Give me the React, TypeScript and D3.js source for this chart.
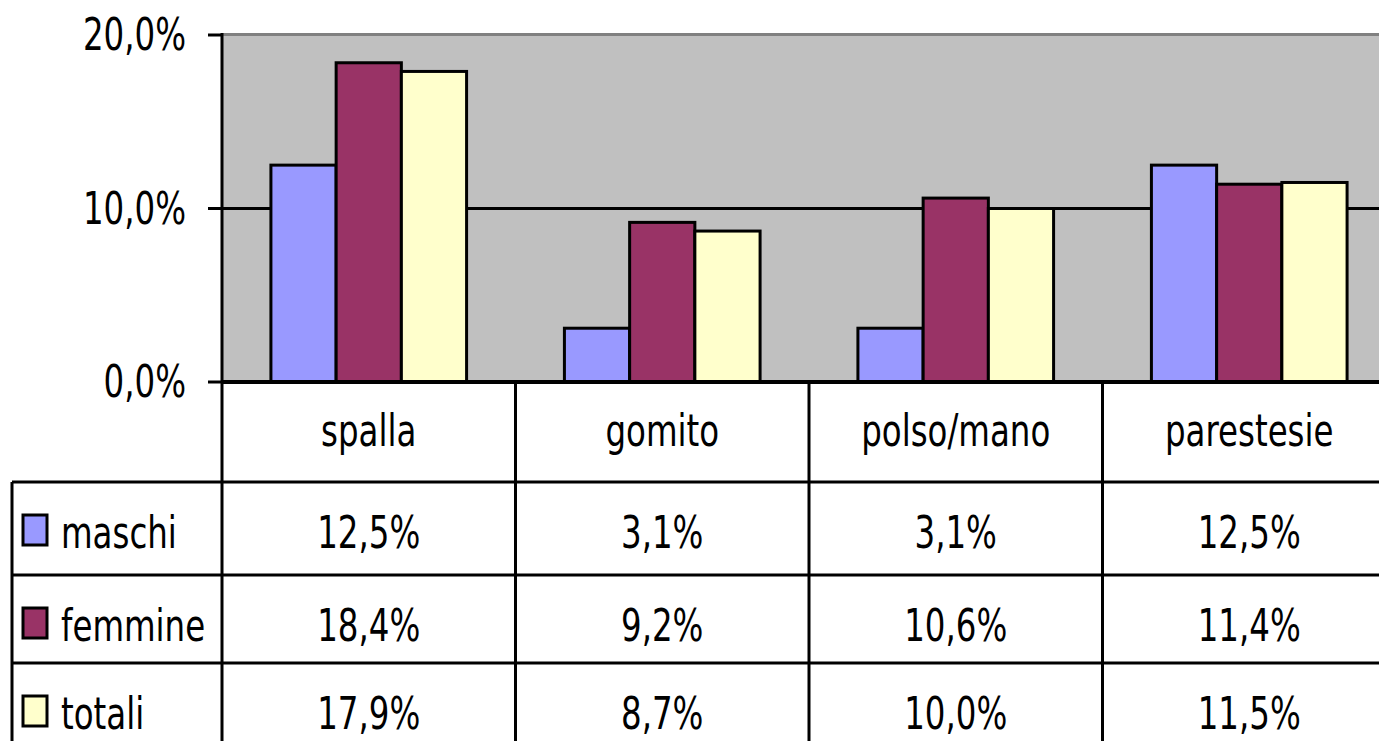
import React from "react";
import * as d3 from "d3";

const categories = ["spalla", "gomito", "polso/mano", "parestesie"];
const seriesNames = ["maschi", "femmine", "totali"];
const maschi = [12.5, 3.1, 3.1, 12.5];
const femmine = [18.4, 9.2, 10.6, 11.4];
const totali = [17.9, 8.7, 10.0, 11.5];
const seriesColors = ["#9999FF", "#993366", "#FFFFCC"];
const yTicks = [0, 10, 20];

const seriesValues = [maschi, femmine, totali];

const W = 1379;
const H = 741;
const plotLeft = 222;
const plotRight = 1396;
const plotTop = 35;
const plotBottom = 382;
const tableLeft = 12;
const rowEdges = [382, 482, 575, 663, 755];
const FONT = "'DejaVu Sans Condensed', 'DejaVu Sans', sans-serif";
const FS = 44;
const SX = 0.82;

const fmt = (v: number) => v.toFixed(1).replace(".", ",") + "%";

function T(props: { x: number; y: number; anchor?: "start" | "middle" | "end"; children: React.ReactNode }) {
  return (
    <text
      transform={`translate(${props.x},${props.y}) scale(${SX},1)`}
      textAnchor={props.anchor || "start"}
      fontSize={FS}
      fill="#000"
    >
      {props.children}
    </text>
  );
}

export default function App() {
  const x = d3.scaleBand<string>().domain(categories).range([plotLeft, plotRight]).paddingInner(0).paddingOuter(0);
  const xs = d3.scaleBand<string>().domain(seriesNames).range([0, x.bandwidth()]).paddingInner(0).paddingOuter(0.75);
  const y = d3.scaleLinear().domain([0, 20]).range([plotBottom, plotTop]);

  return (
    <div style={{ position: "fixed", left: 0, top: 0, width: W, height: H, background: "#fff" }}>
      <svg width={W} height={H} style={{ display: "block" }} fontFamily={FONT}>
        <rect x={0} y={0} width={W} height={H} fill="#fff" />
        {/* plot area */}
        <rect x={plotLeft} y={plotTop} width={plotRight - plotLeft} height={plotBottom - plotTop} fill="#C0C0C0" />
        <line x1={plotLeft} x2={plotRight} y1={plotTop - 0.5} y2={plotTop - 0.5} stroke="#808080" strokeWidth={3} />
        {/* gridlines */}
        {yTicks.filter((t) => t > 0 && t < 20).map((t) => (
          <line key={"g" + t} x1={plotLeft} x2={plotRight} y1={y(t)} y2={y(t)} stroke="#000" strokeWidth={3} />
        ))}
        {/* bars */}
        {categories.map((c, ci) =>
          seriesNames.map((s, si) => {
            const v = seriesValues[si][ci];
            const bx = (x(c) as number) + (xs(s) as number);
            return (
              <rect
                key={c + s}
                x={bx}
                y={y(v)}
                width={xs.bandwidth()}
                height={y(0) - y(v)}
                fill={seriesColors[si]}
                stroke="#000"
                strokeWidth={3}
              />
            );
          })
        )}
        {/* y axis */}
        <line x1={plotLeft} x2={plotLeft} y1={plotTop - 2} y2={plotBottom} stroke="#000" strokeWidth={3} />
        {yTicks.map((t) => (
          <g key={"t" + t}>
            <line x1={208} x2={plotLeft} y1={y(t)} y2={y(t)} stroke="#000" strokeWidth={3} />
            <T x={186} y={y(t) + 15} anchor="end">
              {fmt(t)}
            </T>
          </g>
        ))}
        {/* x axis line */}
        <line x1={plotLeft} x2={W} y1={plotBottom} y2={plotBottom} stroke="#000" strokeWidth={4} />
        {/* table vertical lines */}
        {categories.map((c) => (
          <line key={"v" + c} x1={x(c) as number} x2={x(c) as number} y1={plotBottom} y2={H} stroke="#000" strokeWidth={3} />
        ))}
        <line x1={tableLeft} x2={tableLeft} y1={rowEdges[1]} y2={H} stroke="#000" strokeWidth={3} />
        {/* table horizontal lines */}
        {rowEdges.slice(1, 4).map((r) => (
          <line key={"h" + r} x1={tableLeft} x2={W} y1={r} y2={r} stroke="#000" strokeWidth={3} />
        ))}
        {/* category labels */}
        {categories.map((c) => (
          <T key={"c" + c} x={(x(c) as number) + x.bandwidth() / 2} y={rowEdges[0] + 64} anchor="middle">
            {c}
          </T>
        ))}
        {/* series rows */}
        {seriesNames.map((s, si) => {
          const top = rowEdges[si + 1];
          const base = top + 66;
          return (
            <g key={"r" + s}>
              <rect x={23} y={base - 33} width={24} height={30} fill={seriesColors[si]} stroke="#000" strokeWidth={3} />
              <T x={61} y={base}>
                {s}
              </T>
              {categories.map((c, ci) => (
                <T key={s + c} x={(x(c) as number) + x.bandwidth() / 2} y={base} anchor="middle">
                  {fmt(seriesValues[si][ci])}
                </T>
              ))}
            </g>
          );
        })}
      </svg>
    </div>
  );
}
